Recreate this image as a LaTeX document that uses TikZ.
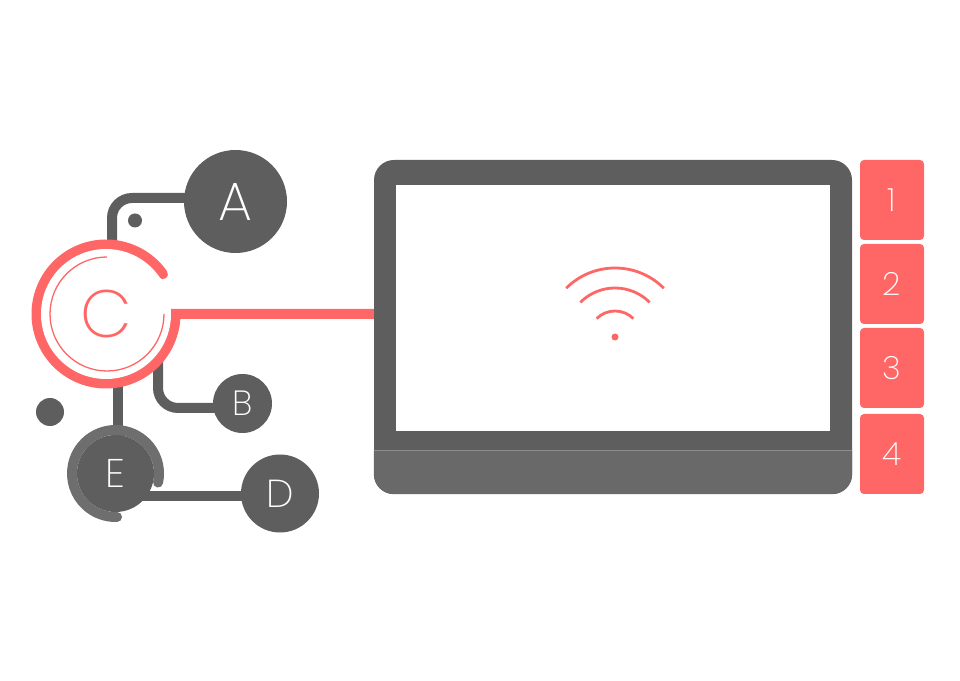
\documentclass[tikz,border=0pt]{standalone}
\usepackage{fontspec}
\setmainfont{Poppins}[UprightFont=* ExtraLight]
\usetikzlibrary{calc,backgrounds}
\definecolor{slate}{HTML}{5E5E5E}
\definecolor{chin}{HTML}{696969}
\definecolor{halo}{HTML}{6E6E6E}
\definecolor{seam}{HTML}{8C8C8C}
\definecolor{coral}{HTML}{FF6666}
\tikzset{
  bubble/.style={circle,fill=slate,text=white,inner sep=0pt},
  wire/.style={draw=slate,line width=10},
  keybox/.style={fill=coral,text=white,rounded corners=4,minimum width=64,minimum height=80,inner sep=0pt,font=\fontsize{32}{32}\selectfont},
  wave/.style={draw=coral,line width=2.8}
}
\begin{document}
\begin{tikzpicture}[x=1pt,y=1pt]
            \useasboundingbox (0,0) rectangle (960,680);

            % Bubbles
            \node[bubble,minimum size=103,font=\fontsize{54}{54}\selectfont] (A) at (235.5,478.5) {A};
            \node[bubble,minimum size=59,font=\fontsize{35}{35}\selectfont] (B) at (242.5,276.5) {B};
            \node[circle,fill=white,text=coral,inner sep=0pt,minimum size=130,font=\fontsize{67}{67}\selectfont] (C) at (106,366) {C};
            \node[bubble,minimum size=78,font=\fontsize{39}{39}\selectfont] (D) at (280,186.5) {D};
            \node[bubble,minimum size=77,font=\fontsize{40}{40}\selectfont] (E) at (115.5,206.5) {E};

            % Loose dots
            \node[bubble,minimum size=14] (dotA) at (135,459.5) {};
            \node[bubble,minimum size=28] (dotB) at (50,268) {};

            % Monitor
            \node[fill=slate,rounded corners=20,minimum width=478,minimum height=334,inner sep=0pt] (monitor) at (613,353) {};
            \fill[chin] (monitor.west |- 0,230) [rounded corners=20] -- (monitor.south west) -- (monitor.south east) [sharp corners] -- (monitor.east |- 0,230) -- cycle;
            \draw[seam,line width=0.8] (monitor.west |- 0,230) -- (monitor.east |- 0,230);
            \node[fill=white,minimum width=434,minimum height=246,inner sep=0pt] (screen) at (613,372) {};

            % Keys
            \node[keybox] (key1) at (892,480) {1};
            \node[keybox] (key2) at (892,396) {2};
            \node[keybox] (key3) at (892,312) {3};
            \node[keybox] (key4) at (892,226) {4};

            % Wifi
            \node[circle,fill=coral,inner sep=0pt,minimum size=7] (wifi) at (615,343) {};
            \draw[wave] ([shift=(45:26)]wifi.center) arc[start angle=45,end angle=135,radius=26];
            \draw[wave] ([shift=(45:49)]wifi.center) arc[start angle=45,end angle=135,radius=49];
            \draw[wave] ([shift=(45:69)]wifi.center) arc[start angle=45,end angle=135,radius=69];

            % Connectors go under the bubbles
            \coordinate (tapA) at ($(C.center)+(6,0)$);
            \coordinate (tapB) at ($(C.center)+(52,0)$);
            \coordinate (tapE) at ($(C.center)+(12,0)$);
            \begin{scope}[on background layer]
                \draw[wire,rounded corners=20] ($(A.center)+(0,3.5)$) -| (tapA);
                \draw[wire,rounded corners=20] (tapB) |- ($(B.center)+(0,-4.5)$);
                \draw[wire] (tapE) -- (tapE |- E.center);
                \draw[wire] ($(E.center)+(0,-22.5)$) -- ($(D.center)+(0,-2.5)$);
                % Ring of C, runs on into the monitor
                \draw[coral,line width=10,line cap=round] ([shift=(35:69.5)]C.center) arc[start angle=35,end angle=360,radius=69.5] -- (monitor.west |- C.center);
            \end{scope}

            % Thin ring of C and halo of E
            \draw[coral,line width=1.3] ($(C.center)+(1,57)$) arc[start angle=90,end angle=360,radius=57];
            \draw[halo,line width=10,line cap=round] ([shift=(-12:43.5)]E.center) arc[start angle=-12,end angle=272,radius=43.5];
\end{tikzpicture}
\end{document}
